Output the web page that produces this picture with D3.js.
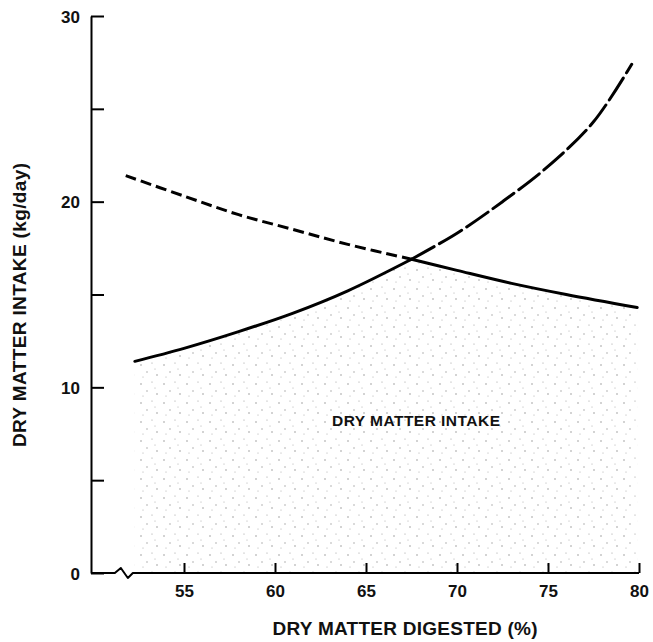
<!DOCTYPE html>
<html>
<head>
<meta charset="utf-8">
<script src="https://cdn.jsdelivr.net/npm/d3@7"></script>
<style>
body { margin: 0; background: #fff; }
svg text { font-family: "Liberation Sans", Arial, Helvetica, sans-serif; font-weight: bold; fill: #111; }
</style>
</head>
<body>
<script>
// intake set by digestibility (rising curve)
var risingDigested = [52.3, 55, 58, 61, 64, 67.5, 70, 72.5, 75, 77.5, 79.6];
var risingIntake   = [11.4, 12.1, 13.0, 14.0, 15.2, 16.9, 18.3, 20.0, 21.9, 24.3, 27.4];
// intake set by rumen fill (falling curve)
var fallingDigested = [51.8, 55, 58, 61, 64, 67.5, 70, 73, 76, 79.9];
var fallingIntake   = [21.4, 20.3, 19.3, 18.5, 17.7, 16.9, 16.3, 15.6, 15.0, 14.3];
var crossover = 67.5;
var xTicks = [55, 60, 65, 70, 75, 80];
var yTicks = [0, 5, 10, 15, 20, 25, 30];
var xTitle = "DRY MATTER DIGESTED (%)";
var yTitle = "DRY MATTER INTAKE (kg/day)";
var areaLabel = "DRY MATTER INTAKE";

var width = 653, height = 642;

var svg = d3.select("body").append("svg")
    .attr("width", width).attr("height", height);

var x = d3.scaleLinear().domain([50, 80]).range([93, 639]);
var y = d3.scaleLinear().domain([0, 30]).range([573, 16]);

function pairs(xs, ys) {
    return xs.map(function(d, i) { return {x: d, y: ys[i]}; });
}
var rising = pairs(risingDigested, risingIntake);
var falling = pairs(fallingDigested, fallingIntake);

var risingLow = rising.filter(function(d) { return d.x <= crossover; });
var risingHigh = rising.filter(function(d) { return d.x >= crossover; });
var fallingHigh = falling.filter(function(d) { return d.x <= crossover; });
var fallingLow = falling.filter(function(d) { return d.x >= crossover; });

// stipple pattern for the shaded intake region
var defs = svg.append("defs");
var pat = defs.append("pattern")
    .attr("id", "stipple")
    .attr("patternUnits", "userSpaceOnUse")
    .attr("width", 23).attr("height", 19);
[[3, 4, 0.8], [14, 2, 0.6], [9, 11, 0.7], [19, 14, 0.8], [5, 16, 0.5], [17, 8, 0.5]].forEach(function(p) {
    pat.append("circle").attr("cx", p[0]).attr("cy", p[1]).attr("r", p[2]).attr("fill", "#777");
});

var curve = d3.curveCatmullRom.alpha(0.5);

var area = d3.area()
    .x(function(d) { return x(d.x); })
    .y0(y(0))
    .y1(function(d) { return y(d.y); })
    .curve(curve);

[risingLow, fallingLow].forEach(function(seg) {
    svg.append("path").datum(seg)
        .attr("d", area)
        .attr("fill", "url(#stipple)")
        .attr("opacity", 0.75);
});

var line = d3.line()
    .x(function(d) { return x(d.x); })
    .y(function(d) { return y(d.y); })
    .curve(curve);

// dashed parts (the curve that does not limit intake)
svg.append("path").datum(fallingHigh)
    .attr("d", line)
    .attr("fill", "none").attr("stroke", "#000")
    .attr("stroke-width", 3)
    .attr("stroke-dasharray", "11,5");

svg.append("path").datum(risingHigh)
    .attr("d", line)
    .attr("fill", "none").attr("stroke", "#000")
    .attr("stroke-width", 3)
    .attr("stroke-linecap", "round")
    .attr("stroke-dasharray", "26,6");

// solid parts (the limiting curve)
[risingLow, fallingLow].forEach(function(seg) {
    svg.append("path").datum(seg)
        .attr("d", line)
        .attr("fill", "none").attr("stroke", "#000")
        .attr("stroke-width", 3)
        .attr("stroke-linecap", "round");
});

// y axis
var yAxisX = x(50) - 2;
var yAxis = svg.append("g")
    .attr("transform", "translate(" + yAxisX + ",0)")
    .call(d3.axisLeft(y).tickValues(yTicks).tickSize(-13).tickSizeOuter(0).tickPadding(11)
        .tickFormat(function(d) { return d % 10 === 0 ? d : ""; }));
yAxis.attr("font-family", null).attr("font-size", 17);
yAxis.selectAll("path, line").attr("stroke", "#000").attr("stroke-width", 2);
yAxis.selectAll("text").attr("dy", "0.36em");

// x axis with a break near the origin
var xAxis = svg.append("g")
    .attr("transform", "translate(0," + y(0) + ")")
    .call(d3.axisBottom(x).tickValues(xTicks).tickSize(-10).tickPadding(12));
xAxis.select(".domain").remove();
xAxis.attr("font-family", null).attr("font-size", 17);
xAxis.selectAll("line").attr("stroke", "#000").attr("stroke-width", 2);

var b = x(51.2);
svg.append("path")
    .attr("d", "M" + yAxisX + "," + y(0) + " H" + b + " L" + (b + 6) + "," + (y(0) - 5) +
        " L" + (b + 13) + "," + (y(0) + 5) + " L" + (b + 18) + "," + y(0) + " H" + x(80))
    .attr("fill", "none").attr("stroke", "#000").attr("stroke-width", 2)
    .attr("stroke-linejoin", "round");

// titles
svg.append("text")
    .attr("x", 405).attr("y", 635)
    .attr("text-anchor", "middle")
    .attr("font-size", 19)
    .attr("textLength", 265).attr("lengthAdjust", "spacing")
    .text(xTitle);

svg.append("text")
    .attr("transform", "translate(26,305) rotate(-90)")
    .attr("text-anchor", "middle")
    .attr("font-size", 19)
    .attr("textLength", 284).attr("lengthAdjust", "spacing")
    .text(yTitle);

svg.append("text")
    .attr("x", 332).attr("y", 426)
    .attr("font-size", 15.5)
    .attr("textLength", 168).attr("lengthAdjust", "spacing")
    .text(areaLabel);
</script>
</body>
</html>
